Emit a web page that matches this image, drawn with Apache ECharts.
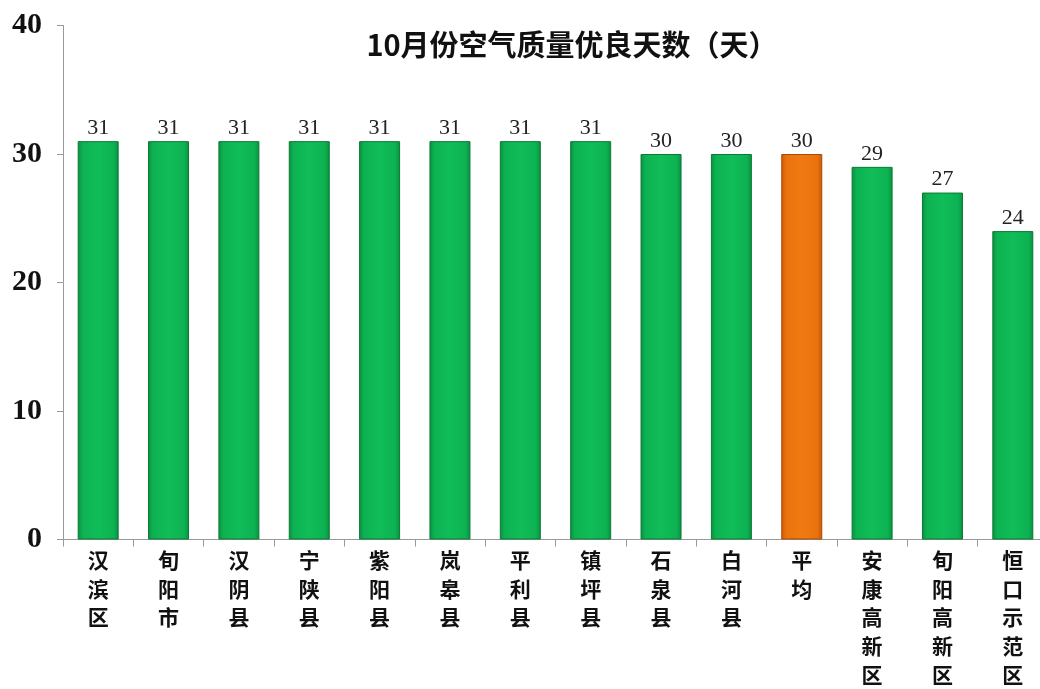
<!DOCTYPE html>
<html><head><meta charset="utf-8">
<script src="https://cdn.jsdelivr.net/npm/echarts@6/dist/echarts.min.js"></script>
<style>html,body{margin:0;padding:0;background:#fff}#c{width:1040px;height:689px}</style>
</head><body><div id="c"></div>
<script>
const categories = ['汉滨区','旬阳市','汉阴县','宁陕县','紫阳县','岚皋县','平利县','镇坪县','石泉县','白河县','平均','安康高新区','旬阳高新区','恒口示范区'];
const values = [31,31,31,31,31,31,31,31,30,30,30,29,27,24];
const highlightCategory = '平均';
const yTicks = [0,10,20,30,40];

const green = {type:'linear',x:0,y:0,x2:1,y2:0,colorStops:[
  {offset:0,color:'#0a8f40'},{offset:0.12,color:'#0db252'},{offset:0.5,color:'#10bd58'},{offset:0.88,color:'#0db252'},{offset:1,color:'#0a8f40'}]};
const orange = {type:'linear',x:0,y:0,x2:1,y2:0,colorStops:[
  {offset:0,color:'#c85a05'},{offset:0.12,color:'#ea720e'},{offset:0.5,color:'#f07a12'},{offset:0.88,color:'#ea720e'},{offset:1,color:'#c85a05'}]};

const chart = echarts.init(document.getElementById('c'));
chart.setOption({
  animation:false,
  title:{text:'10月份空气质量优良天数（天）',left:567,top:25,textAlign:'center',
    textStyle:{fontFamily:'Noto Sans CJK SC',fontSize:29,fontWeight:'bold',color:'#111'}},
  grid:{left:63,top:25.5,height:514,width:985,containLabel:false,outerBoundsMode:'none'},
  xAxis:{type:'category',data:categories,
    axisLine:{lineStyle:{color:'#999',width:1}},
    axisTick:{show:true,length:7,lineStyle:{color:'#999'}},
    axisLabel:{interval:0,margin:6,fontFamily:'Noto Sans CJK SC',fontWeight:'bold',fontSize:21,lineHeight:28.7,color:'#111',
      formatter:v=>v.split('').join('\n'),verticalAlign:'top'}},
  yAxis:{type:'value',min:yTicks[0],max:yTicks[yTicks.length-1],interval:10,
    axisLine:{show:true,lineStyle:{color:'#999',width:1}},
    axisTick:{show:true,length:6,lineStyle:{color:'#999'}},
    splitLine:{show:false},
    axisLabel:{margin:21,fontFamily:'Liberation Serif',fontSize:30,fontWeight:'bold',color:'#111'}},
  series:[{type:'bar',barWidth:41,
    data:values.map((v,i)=>({value:v,itemStyle:{color:categories[i]===highlightCategory?orange:green,
      borderColor:categories[i]===highlightCategory?'#a84a04':'#0a7a36',borderWidth:1}})),
    label:{show:true,position:'top',distance:2,fontFamily:'Liberation Serif',fontSize:22,color:'#222'}
  }]
});
</script></body></html>
